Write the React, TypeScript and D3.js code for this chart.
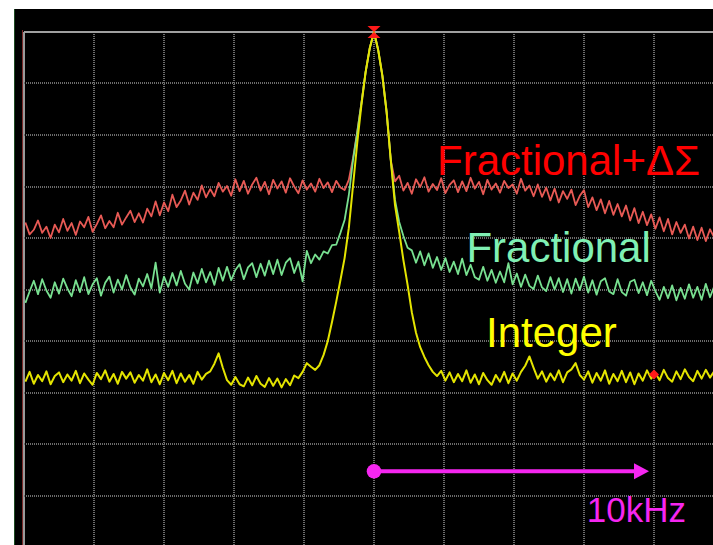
import React from 'react';
import * as d3 from 'd3';

// sweep: 165 points, 0.15 kHz apart, centred on the carrier (index 83)
const SWEEP_STEP = 0.15;
const CENTER_INDEX = 83;

// trace levels in dB relative to the carrier
const fracSigmaDelta = [
  -37.0, -39.3, -38.4, -36.6, -39.0, -37.8, -40.0, -37.4, -38.9, -36.3,
  -38.6, -37.1, -39.4, -36.8, -37.9, -35.9, -38.8, -37.3, -35.6, -38.1,
  -36.7, -37.9, -35.1, -37.4, -36.0, -34.7, -36.9, -35.2, -37.0, -34.3,
  -35.8, -32.9, -35.6, -33.1, -34.8, -31.6, -34.0, -32.7, -30.8, -33.5,
  -31.2, -32.6, -29.8, -32.1, -30.5, -31.9, -29.3, -31.0, -29.9, -31.8,
  -28.6, -30.9, -28.9, -31.4, -29.6, -28.3, -30.8, -29.1, -31.5, -28.7,
  -30.4, -29.0, -31.2, -28.4, -30.0, -31.3, -28.8, -30.6, -29.4, -31.0,
  -28.5, -30.3, -29.2, -31.1, -28.9, -30.2, -30.7, -28.7, -24.5, -19.4,
  -13.8, -7.8, -3.1, 0, -3.5, -8.5, -15.5, -24.9, -29.0, -27.9,
  -30.8, -29.3, -31.4, -28.6, -30.1, -28.2, -31.0, -29.5, -30.7, -28.4,
  -31.3, -29.7, -28.8, -31.1, -29.0, -30.9, -28.3, -30.4, -29.1, -31.5,
  -28.7, -30.6, -29.4, -31.2, -28.9, -30.3, -29.6, -31.4, -28.5, -30.8,
  -29.8, -31.9, -29.6, -32.0, -30.2, -32.7, -30.4, -33.1, -30.9, -32.4,
  -30.6, -33.6, -31.8, -30.7, -34.0, -32.1, -34.6, -32.5, -35.2, -32.8,
  -35.5, -33.4, -35.8, -33.7, -36.6, -34.2, -37.1, -34.9, -37.5, -35.4,
  -38.2, -36.0, -38.7, -36.3, -39.3, -36.9, -39.0, -37.4, -40.1, -37.8,
  -40.4, -38.0, -40.6, -38.3, -39.9,
];

const fractional = [
  -52.6, -50.4, -48.3, -50.9, -48.0, -50.2, -51.6, -48.6, -50.8, -47.9,
  -49.8, -51.3, -48.2, -50.5, -47.6, -50.9, -49.0, -47.8, -51.2, -48.7,
  -47.5, -50.6, -48.1, -50.0, -47.2, -49.6, -51.0, -47.9, -49.4, -47.0,
  -49.8, -44.8, -50.6, -47.5, -49.5, -46.8, -49.2, -46.4, -48.9, -50.0,
  -46.7, -48.8, -46.0, -48.6, -46.6, -49.1, -45.8, -48.3, -45.6, -48.2,
  -46.2, -45.1, -48.0, -45.7, -44.9, -47.6, -45.0, -47.3, -44.4, -47.0,
  -44.2, -47.2, -44.8, -43.9, -46.8, -44.6, -48.4, -42.5, -44.9, -43.2,
  -44.2, -42.6, -43.0, -41.4, -41.3, -39.0, -36.5, -31.7, -24.9, -19.6,
  -13.8, -7.8, -3.1, 0, -3.5, -8.5, -15.5, -24.9, -32.6, -36.9,
  -39.6, -41.9, -42.4, -44.8, -42.6, -45.3, -43.0, -45.8, -43.7, -46.2,
  -43.9, -46.6, -44.6, -47.0, -44.0, -47.2, -45.2, -47.6, -48.1, -45.6,
  -48.3, -46.2, -48.7, -46.5, -48.6, -44.9, -49.0, -46.9, -49.5, -47.1,
  -49.3, -49.9, -47.3, -49.6, -50.3, -47.6, -50.0, -47.8, -50.5, -48.0,
  -50.8, -47.9, -50.1, -47.5, -50.6, -48.2, -51.0, -48.4, -47.8, -50.4,
  -50.9, -48.0, -50.5, -51.2, -48.5, -48.1, -50.7, -48.6, -51.1, -48.3,
  -50.3, -52.0, -49.5, -51.7, -49.2, -52.1, -49.7, -51.8, -49.0, -51.6,
  -49.5, -52.0, -48.9, -51.5, -49.4,
];

const integer = [
  -67.9, -66.0, -68.3, -66.6, -67.8, -65.9, -68.4, -66.8, -66.1, -68.0,
  -66.5, -67.7, -65.8, -68.2, -66.3, -67.5, -68.5, -66.2, -67.4, -65.7,
  -67.9, -66.4, -68.3, -66.0, -67.3, -66.1, -68.1, -66.6, -67.7, -65.5,
  -68.0, -66.5, -68.4, -66.2, -67.6, -65.8, -68.2, -66.3, -67.9, -66.6,
  -68.3, -66.0, -67.5, -66.4, -65.9, -64.4, -62.4, -65.2, -67.6, -68.5,
  -67.0, -68.4, -68.8, -67.1, -68.6, -66.8, -68.3, -68.9, -67.2, -68.7,
  -67.3, -69.0, -67.4, -68.6, -66.7, -67.2, -66.0, -64.3, -65.0, -65.6,
  -64.7, -62.7, -60.0, -56.3, -52.4, -48.2, -43.9, -38.1, -29.9, -21.6,
  -14.2, -7.8, -3.1, 0, -3.5, -8.5, -15.5, -24.9, -33.6, -38.8,
  -44.3, -49.1, -54.4, -58.4, -61.2, -63.1, -64.7, -66.0, -66.8, -65.8,
  -67.7, -66.1, -68.0, -66.4, -67.8, -65.7, -68.1, -66.5, -68.4, -66.2,
  -67.6, -68.5, -66.6, -67.9, -66.0, -68.2, -66.3, -67.7, -66.0, -64.8,
  -63.0, -65.2, -67.3, -65.9, -67.9, -66.3, -67.6, -65.7, -68.0, -66.1,
  -65.5, -64.3, -66.6, -67.5, -65.9, -68.1, -66.2, -67.7, -65.7, -68.3,
  -66.4, -67.8, -65.8, -68.0, -66.1, -68.4, -66.3, -67.7, -65.7, -67.3,
  -66.2, -67.6, -65.6, -67.2, -67.9, -65.9, -67.4, -65.5, -67.0, -67.8,
  -65.8, -67.3, -65.6, -67.1, -65.9,
];

// graticule: 10 x 10 divisions, 2.5 kHz/div, 10 dB/div
const xTicks = d3.range(-12.5, 12.6, 2.5);
const yTicks = d3.range(0, -101, -10);

// markers and annotation
const peakMarker = { f: 0, db: 0 };
const offsetMarker = { f: 10, db: -66.5 };
const spanArrow = { from: 0, to: 10, db: -85.3 };
const spanLabel = { text: '10kHz', f: 7.6, db: -95.1 };

const traces = [
  { name: 'Fractional+ΔΣ', values: fracSigmaDelta, color: '#e85a55', width: 1.8, label: '#ff0000', lf: 2.25, ldb: -27.8 },
  { name: 'Fractional', values: fractional, color: '#78e090', width: 1.8, label: '#80f0b4', lf: 3.3, ldb: -44.7 },
  { name: 'Integer', values: integer, color: '#e4e400', width: 2, label: '#ffff00', lf: 4.0, ldb: -61.2 },
];

const W = 713;
const H = 545;

export default function App() {
  const x = d3.scaleLinear().domain([-12.5, 12.5]).range([24, 724]);
  const y = d3.scaleLinear().domain([0, -100]).range([32, 547]);

  const freq = (i: number) => (i - CENTER_INDEX) * SWEEP_STEP;
  const line = d3
    .line<number>()
    .x((_, i) => x(freq(i)))
    .y((d) => y(d));

  const px = x(peakMarker.f);
  const py = y(peakMarker.db);
  const mx = x(offsetMarker.f);
  const my = y(offsetMarker.db);
  const ax0 = x(spanArrow.from);
  const ax1 = x(spanArrow.to);
  const ay = y(spanArrow.db);

  const font = '"Liberation Sans", Arial, sans-serif';

  return (
    <div style={{ position: 'fixed', left: 0, top: 0 }}>
      <svg width={W} height={H} style={{ display: 'block', background: '#fff' }}>
        <defs>
          <clipPath id="screen">
            <rect x={24} y={31} width={W - 24} height={H - 31} />
          </clipPath>
        </defs>

        {/* analyzer screen */}
        <rect x={14} y={9} width={W - 14} height={H - 9} fill="#000" />
        <line x1={14.5} x2={14.5} y1={9} y2={H} stroke="#1d4a22" strokeWidth={1} />
        <line x1={22.5} x2={22.5} y1={30} y2={H} stroke="#7a2a2a" strokeWidth={1} />

        {/* graticule */}
        {xTicks.map((t, i) => (
          <line
            key={'v' + i}
            x1={Math.round(x(t))}
            x2={Math.round(x(t))}
            y1={32}
            y2={H}
            stroke={i === 0 ? '#9a9a9a' : '#6c6c6c'}
            strokeWidth={2}
            strokeDasharray={i === 0 ? undefined : '1 1'}
          />
        ))}
        {yTicks.map((t, i) => (
          <line
            key={'h' + i}
            x1={24}
            x2={W}
            y1={Math.round(y(t))}
            y2={Math.round(y(t))}
            stroke={i === 0 ? '#a0a0a0' : '#6c6c6c'}
            strokeWidth={2}
            strokeDasharray={i === 0 ? undefined : '1 1'}
          />
        ))}

        {/* traces */}
        <g clipPath="url(#screen)" fill="none" strokeLinejoin="round">
          {traces.map((t) => (
            <path key={t.name} d={line(t.values) || ''} stroke={t.color} strokeWidth={t.width} />
          ))}
        </g>

        {/* markers */}
        <path
          d={`M${px - 6.5},${py - 6} L${px + 6.5},${py - 6} L${px},${py} L${px + 6.5},${py + 6} L${px - 6.5},${py + 6} L${px},${py} Z`}
          fill="#ff1a1a"
        />
        <path d={`M${mx},${my - 5} L${mx + 5},${my} L${mx},${my + 5} L${mx - 5},${my} Z`} fill="#ff1a1a" />

        {/* trace labels */}
        {traces.map((t) => (
          <text
            key={'l' + t.name}
            x={x(t.lf)}
            y={y(t.ldb)}
            fill={t.label}
            fontFamily={font}
            fontSize={42}
          >
            {t.name}
          </text>
        ))}

        {/* span annotation */}
        <circle cx={ax0} cy={ay} r={7.3} fill="#f526f0" />
        <line x1={ax0} x2={ax1 - 14} y1={ay} y2={ay} stroke="#f526f0" strokeWidth={4} />
        <path d={`M${ax1 - 5},${ay} L${ax1 - 20},${ay - 8} L${ax1 - 20},${ay + 8} Z`} fill="#f526f0" />
        <text x={x(spanLabel.f)} y={y(spanLabel.db)} fill="#f526f0" fontFamily={font} fontSize={35}>
          {spanLabel.text}
        </text>
      </svg>
    </div>
  );
}
